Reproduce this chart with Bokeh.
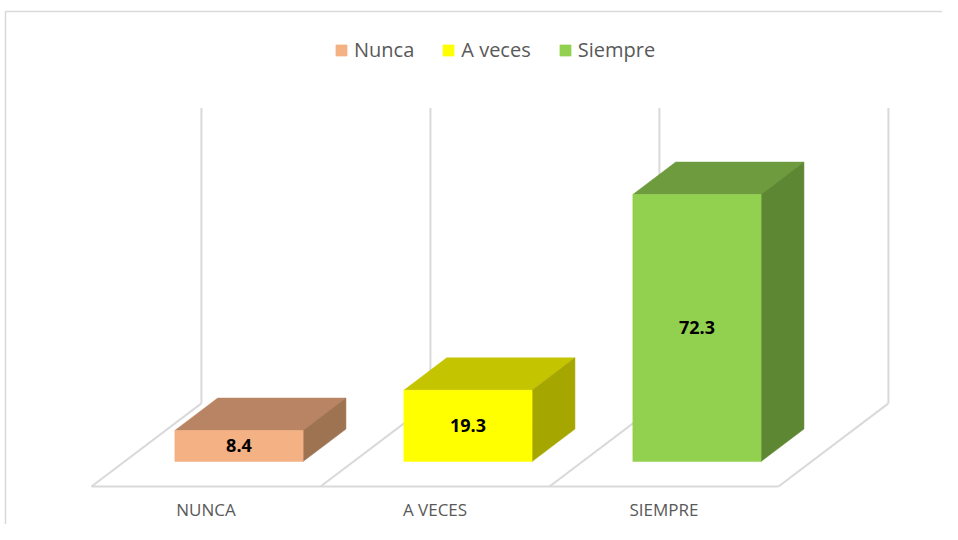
from bokeh.plotting import figure
from bokeh.models import Range1d, ColumnDataSource, Legend, LegendItem
from bokeh.core.properties import value
from bokeh.embed import file_html
from bokeh.resources import INLINE

# ---- data ----
categories = ["Nunca", "A veces", "Siempre"]
tick_labels = ["NUNCA", "A VECES", "SIEMPRE"]
values = [8.4, 19.3, 72.3]
y_max = 80

front_colors = ["#F4B183", "#FFFF00", "#92D050"]
top_colors = ["#B98463", "#C4C400", "#6E9B3E"]
side_colors = ["#9E7352", "#A6A600", "#5E8733"]

# ---- 3D look parameters (styles) ----
DX = 0.48      # depth offset in x units (full floor depth)
DY = 22.5      # depth offset in value units (full floor depth)
F = 0.3        # bar front depth position within floor
B = 0.39       # bar depth fraction
HW = 0.28      # bar half width

W, H = 942, 524
p = figure(width=W, height=H, output_backend="svg", toolbar_location=None,
           x_range=Range1d(-0.3974, 3.7162), y_range=Range1d(-17.06, 124.83),
           min_border=0)
p.axis.visible = False
p.grid.visible = False
p.outline_line_color = None
p.background_fill_color = "white"
p.border_fill_color = "white"

# chart-area border (top and left edges visible in the window)
p.line([-0.3755, -0.3755, 3.8], [-20, 121.85, 121.85], line_color="#d9d9d9", line_width=1.5)

n = len(categories)
floor_front = -F * DY
floor_back = (1 - F) * DY
grid_col = "#d9d9d9"

# floor front edge
p.line([0, n], [floor_front, floor_front], line_color=grid_col, line_width=2)
# floor diagonals and back wall verticals
for k in range(n + 1):
    p.line([k, k + DX], [floor_front, floor_back], line_color=grid_col, line_width=2)
    p.line([k + DX, k + DX], [floor_back, floor_back + y_max], line_color=grid_col, line_width=2)

# bars
fx, fy, tx, ty, sx, sy, cx = [], [], [], [], [], [], []
for i, v in enumerate(values):
    c = i + 0.5 + F * DX
    cx.append(c)
    l, r = c - HW, c + HW
    fx.append([l, r, r, l]); fy.append([0, 0, v, v])
    tx.append([l, r, r + B * DX, l + B * DX]); ty.append([v, v, v + B * DY, v + B * DY])
    sx.append([r, r + B * DX, r + B * DX, r]); sy.append([0, B * DY, v + B * DY, v])

src_f = ColumnDataSource(dict(xs=fx, ys=fy, color=front_colors))
src_t = ColumnDataSource(dict(xs=tx, ys=ty, color=top_colors))
src_s = ColumnDataSource(dict(xs=sx, ys=sy, color=side_colors))
p.patches("xs", "ys", source=src_t, fill_color="color", line_color="color", line_width=0.5)
p.patches("xs", "ys", source=src_s, fill_color="color", line_color="color", line_width=0.5)
rf = p.patches("xs", "ys", source=src_f, fill_color="color", line_color="color", line_width=0.5)

# value labels
lab_src = ColumnDataSource(dict(x=cx, y=[v / 2 for v in values],
                                t=[f"{v:.1f}" for v in values]))
p.text("x", "y", text="t", source=lab_src, text_align="center", text_baseline="middle",
       text_font=value("Open Sans"), text_font_style="bold", text_font_size="18px",
       text_color="black")

# category labels
cat_src = ColumnDataSource(dict(x=[i + 0.5 for i in range(n)], y=[-13.1] * n, t=tick_labels))
p.text("x", "y", text="t", source=cat_src, text_align="center", text_baseline="middle",
       text_font=value("Open Sans"), text_font_size="17px", text_color="#595959")

# legend
items = [LegendItem(label=categories[i], renderers=[rf], index=i) for i in range(n)]
legend = Legend(items=items, orientation="horizontal", location=(334, 461),
                glyph_width=14, glyph_height=14, label_standoff=6, spacing=27,
                padding=0, margin=0, border_line_color=None, background_fill_alpha=0,
                label_text_font="Open Sans", label_text_font_size="20px",
                label_text_color="#595959", label_height=26)
p.add_layout(legend, "center")

open("out.html", "w").write(file_html(p, INLINE))
